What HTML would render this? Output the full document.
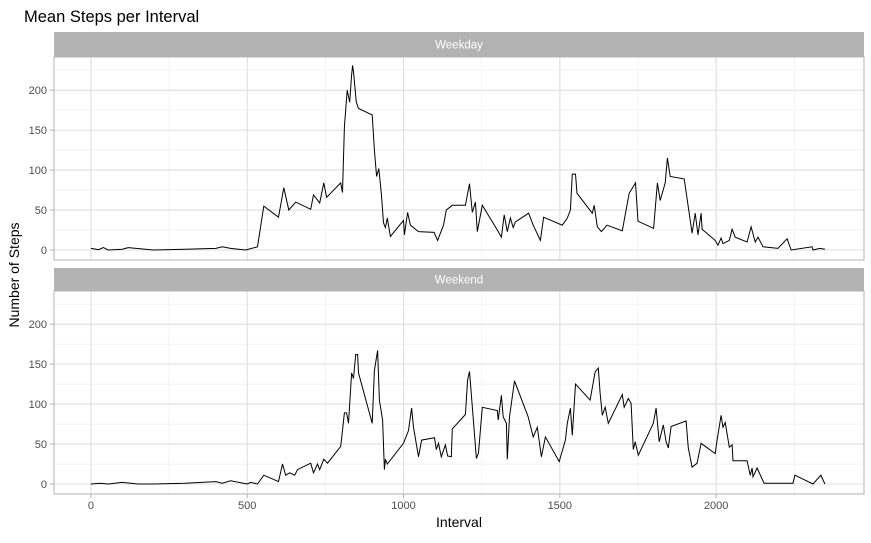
<!DOCTYPE html>
<html><head><meta charset="utf-8"><style>
body{margin:0;background:#fff;font-family:"Liberation Sans",sans-serif}
svg text{font-family:"Liberation Sans",sans-serif}
</style></head><body>
<svg id="c" width="871" height="538" xmlns="http://www.w3.org/2000/svg"></svg>
<script>
const xTicks=[0,500,1000,1500,2000];
const yTicks=[0,50,100,150,200];
const panelNames=["Weekday","Weekend"];
const weekdayIntervals=[0,25,40,55,100,120,200,300,400,420,447,495,533,553,600,617,633,655,703,712,732,745,754,799,805,811,820,828,834,837,840,849,856,900,907,914,921,929,936,942,948,958,1000,1003,1013,1022,1048,1098,1109,1128,1137,1156,1198,1211,1220,1230,1236,1252,1300,1313,1322,1332,1342,1351,1358,1400,1415,1438,1448,1508,1524,1534,1540,1550,1555,1604,1610,1620,1633,1651,1700,1709,1722,1742,1750,1800,1812,1821,1837,1844,1853,1898,1923,1933,1942,1952,1955,1997,2006,2016,2022,2042,2051,2061,2099,2112,2125,2134,2150,2198,2227,2240,2307,2310,2332,2348];
const weekdayValues=[2,0.5,3,0,1,3,0,1,2,4,2,0,4,55,41,78,50,60,51,69,59,84,66,84,72,154,200,185,219,231,223,185,177,169,125,92,102,71,34,28,40,17,37,19,47,31,23,22,12,31,50,56,56,83,47,60,23,56,25,16,44,23,40,28,35,46,31,12,41,31,40,50,95,95,71,46,56,29,23,31,24,44,71,84,36,27,84,62,84,115,92,89,21,46,19,46,26,12,6,15,8,12,26,16,10,29,10,16,4,2,14,0,4,0,2,1];
const weekendIntervals=[0,30,55,100,150,200,300,400,420,447,500,511,533,553,600,613,623,636,652,661,703,712,725,732,745,757,799,811,818,824,834,840,847,853,856,900,907,917,923,933,939,942,948,1000,1016,1026,1032,1048,1058,1099,1105,1112,1121,1134,1141,1153,1156,1198,1205,1211,1233,1240,1252,1300,1303,1313,1319,1329,1332,1339,1355,1399,1415,1428,1441,1454,1498,1518,1524,1534,1540,1550,1597,1613,1623,1629,1636,1645,1655,1700,1706,1719,1728,1735,1741,1751,1799,1808,1818,1831,1840,1847,1856,1904,1911,1923,1939,1952,1997,2003,2016,2022,2029,2042,2051,2054,2099,2109,2115,2118,2131,2153,2246,2252,2310,2335,2348];
const weekendValues=[0,1,0,2,0,0,1,3,1,4,0,2,0,11,3,25,11,14,11,18,26,14,25,18,31,26,47,89,89,76,139,132,162,162,139,76,142,167,105,80,18,31,25,51,67,95,71,34,55,58,43,51,34,49,35,34,69,87,130,141,32,39,96,92,80,111,84,76,31,84,129,84,59,71,34,59,28,55,76,95,61,125,105,140,145,114,86,96,76,112,96,107,101,43,53,36,76,95,53,74,53,45,72,79,45,21,26,51,38,55,86,71,77,46,49,29,29,11,20,9,20,1,1,11,0,11,0];

const NS="http://www.w3.org/2000/svg";
const svg=document.getElementById('c');
function el(tag,attrs,parent){const e=document.createElementNS(NS,tag);for(const k in attrs)e.setAttribute(k,attrs[k]);(parent||svg).appendChild(e);return e;}
const PX0=54,PX1=864,XMIN=-118,XMAX=2473;
function sx(v){return PX0+(v-XMIN)/(XMAX-XMIN)*(PX1-PX0);}
const panels=[{top:57,bot:260,stripTop:32,ints:weekdayIntervals,vals:weekdayValues},{top:291,bot:494,stripTop:268,ints:weekendIntervals,vals:weekendValues}];
const YMIN=-12.5,YMAX=241.5;
panels.forEach((p,pi)=>{
  const sy=v=>p.bot-(v-YMIN)/(YMAX-YMIN)*(p.bot-p.top);
  const g=el('g',{});
  
  
  const strip=el('rect',{x:PX0,y:p.stripTop,width:PX1-PX0,height:p.top-p.stripTop,fill:'#b3b3b3'},g);
  
  
  const st=el('text',{x:(PX0+PX1)/2,y:(p.stripTop+p.top)/2+4,'text-anchor':'middle','font-size':'11.5',fill:'#fff'},g);
  st.textContent=panelNames[pi];
  
  
  // minor grid
  for(let i=0;i<xTicks.length;i++){const v=xTicks[i]+250;const x=sx(v);if(x<PX1)el('line',{x1:x,x2:x,y1:p.top,y2:p.bot,stroke:'#ececec','stroke-width':0.6},g);}
  for(let i=0;i<yTicks.length;i++){const v=yTicks[i]+25;const y=sy(v);if(y>p.top)el('line',{x1:PX0,x2:PX1,y1:y,y2:y,stroke:'#ececec','stroke-width':0.6},g);}
  xTicks.forEach(v=>{const x=sx(v);el('line',{x1:x,x2:x,y1:p.top,y2:p.bot,stroke:'#dedede','stroke-width':1.1},g);});
  yTicks.forEach(v=>{const y=sy(v);el('line',{x1:PX0,x2:PX1,y1:y,y2:y,stroke:'#dedede','stroke-width':1.1},g);
    const t=el('text',{x:47,y:y+4,'text-anchor':'end','font-size':'11',fill:'#4d4d4d'},g);t.textContent=v;
    
    
    el('line',{x1:50,x2:PX0,y1:y,y2:y,stroke:'#b3b3b3'},g);});
  el('rect',{x:PX0,y:p.top,width:PX1-PX0,height:p.bot-p.top,fill:'none',stroke:'#b3b3b3','stroke-width':1},g);
  const d=p.ints.map((v,i)=>(i?'L':'M')+sx(v).toFixed(1)+','+sy(p.vals[i]).toFixed(1)).join('');
  const path=el('path',{d:d,fill:'none',stroke:'#000','stroke-width':1},g);
  
  
});
xTicks.forEach(v=>{const x=sx(v);el('line',{x1:x,x2:x,y1:494,y2:498,stroke:'#b3b3b3'});
  const t=el('text',{x:x,y:509,'text-anchor':'middle','font-size':'11',fill:'#4d4d4d'});t.textContent=v;
  
  });
const title=el('text',{x:24,y:22,'font-size':'16.5',fill:'#000'});title.textContent='Mean Steps per Interval';


const xt=el('text',{x:459,y:527,'text-anchor':'middle','font-size':'14',fill:'#000'});xt.textContent='Interval';


const yt=el('text',{x:0,y:0,'text-anchor':'middle','font-size':'14',fill:'#000',transform:'translate(19,275) rotate(-90)'});yt.textContent='Number of Steps';


</script>
</body></html>
